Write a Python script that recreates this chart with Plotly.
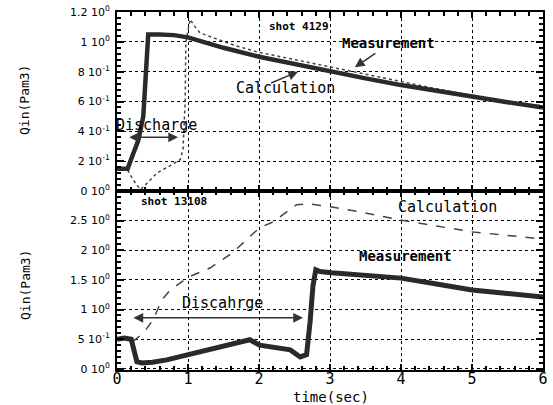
import plotly.graph_objects as go
from plotly.subplots import make_subplots

# ---- Top panel (shot 4129) ----
top_calc_t = [0, 0.15, 0.22, 0.30, 0.37, 0.40, 0.42, 0.44, 0.6, 0.8, 1.0, 1.2, 1.5, 2.0, 2.5, 3.0, 3.5, 4.0, 4.5, 5.0, 5.5, 6.0]
top_calc_y = [0.15, 0.15, 0.24, 0.34, 0.50, 0.70, 0.85, 1.05, 1.05, 1.045, 1.03, 1.0, 0.96, 0.90, 0.85, 0.80, 0.755, 0.71, 0.67, 0.63, 0.595, 0.56]

top_meas_t = [0.15, 0.22, 0.28, 0.33, 0.42, 0.56, 0.75, 0.89, 0.93, 0.96, 0.97, 1.03, 1.1, 1.17, 1.4, 1.7, 2.0, 2.5, 3.0, 3.5, 4.0, 4.5, 5.0, 5.5, 6.0]
top_meas_y = [0.14, 0.08, 0.04, 0.01, 0.05, 0.12, 0.17, 0.21, 0.28, 0.60, 1.00, 1.15, 1.10, 1.06, 1.02, 0.97, 0.93, 0.88, 0.83, 0.78, 0.73, 0.685, 0.64, 0.60, 0.57]

# ---- Bottom panel (shot 13108) ----
bot_meas_t = [0, 0.1, 0.2, 0.24, 0.28, 0.35, 0.5, 0.7, 1.0, 1.2, 1.45, 1.73, 1.87, 2.01, 2.3, 2.44, 2.58, 2.67, 2.72, 2.76, 2.8, 2.86, 3.02, 3.5, 4.0, 4.5, 5.0, 5.5, 6.0]
bot_meas_y = [0.50, 0.52, 0.50, 0.30, 0.12, 0.10, 0.11, 0.15, 0.24, 0.30, 0.37, 0.46, 0.49, 0.40, 0.35, 0.32, 0.20, 0.24, 0.80, 1.40, 1.67, 1.64, 1.62, 1.58, 1.53, 1.43, 1.33, 1.27, 1.21]

bot_calc_t = [0.22, 0.37, 0.51, 0.63, 0.75, 1.01, 1.31, 1.63, 1.87, 2.01, 2.2, 2.53, 2.72, 3.03, 3.5, 3.99, 4.5, 5.01, 5.5, 6.0]
bot_calc_y = [0.46, 0.60, 0.83, 1.16, 1.33, 1.55, 1.70, 1.96, 2.23, 2.38, 2.48, 2.77, 2.78, 2.73, 2.63, 2.51, 2.41, 2.31, 2.25, 2.19]

top_tickvals = [0, 0.2, 0.4, 0.6, 0.8, 1.0, 1.2]
top_ticktext = ["0 10<sup>0</sup>", "2 10<sup>-1</sup>", "4 10<sup>-1</sup>", "6 10<sup>-1</sup>",
                "8 10<sup>-1</sup>", "1 10<sup>0</sup>", "1.2 10<sup>0</sup>"]
bot_tickvals = [0, 0.5, 1.0, 1.5, 2.0, 2.5]
bot_ticktext = ["0 10<sup>0</sup>", "5 10<sup>-1</sup>", "1 10<sup>0</sup>", "1.5 10<sup>0</sup>",
                "2 10<sup>0</sup>", "2.5 10<sup>0</sup>"]
x_tickvals = [0, 1, 2, 3, 4, 5, 6]

MONO = "DejaVu Sans Mono"
INK = "#2a2a2a"

fig = make_subplots(rows=2, cols=1, shared_xaxes=True, vertical_spacing=0)

fig.add_trace(go.Scatter(x=top_meas_t, y=top_meas_y, mode="lines",
                         line=dict(color="#444", width=1.5, dash="dot"), showlegend=False), row=1, col=1)
fig.add_trace(go.Scatter(x=top_calc_t, y=top_calc_y, mode="lines",
                         line=dict(color=INK, width=4.5), showlegend=False), row=1, col=1)
fig.add_trace(go.Scatter(x=bot_calc_t, y=bot_calc_y, mode="lines",
                         line=dict(color="#444", width=1.5, dash="dash"), showlegend=False), row=2, col=1)
fig.add_trace(go.Scatter(x=bot_meas_t, y=bot_meas_y, mode="lines",
                         line=dict(color=INK, width=5), showlegend=False), row=2, col=1)

xcommon = dict(range=[0, 6], tickvals=x_tickvals, showgrid=True, gridcolor="black", griddash="dot",
               gridwidth=1, showline=True, linecolor="black", linewidth=2, mirror="ticks",
               ticks="inside", ticklen=6, tickcolor="black", tickwidth=1.5, zeroline=False,
               automargin=False,
               minor=dict(dtick=0.2, ticks="inside", ticklen=4, tickcolor="black", showgrid=False))
fig.update_xaxes(**xcommon)
fig.update_xaxes(showticklabels=False, row=1, col=1)
fig.update_xaxes(showticklabels=True, tickfont=dict(family=MONO, size=15, color="black"),
                 ticklabelstandoff=-6, row=2, col=1)

ycommon = dict(showgrid=True, gridcolor="black", griddash="dot", gridwidth=1, showline=True,
               linecolor="black", linewidth=2, mirror="ticks", ticks="inside", ticklen=7,
               tickcolor="black", tickwidth=1.5, zeroline=False, automargin=False,
               ticklabelstandoff=3, ticklabeloverflow="allow",
               tickfont=dict(family="DejaVu Sans", size=11, color="black"))
fig.update_yaxes(**ycommon)
fig.update_yaxes(range=[0, 1.2], tickvals=top_tickvals, ticktext=top_ticktext,
                 minor=dict(dtick=0.04, ticks="inside", ticklen=4, tickcolor="black", showgrid=False),
                 row=1, col=1)
fig.update_yaxes(range=[-0.02, 3.0], tickvals=bot_tickvals, ticktext=bot_ticktext,
                 minor=dict(dtick=0.1, ticks="inside", ticklen=4, tickcolor="black", showgrid=False),
                 row=2, col=1)

def txt(x, y, s, xref, yref, size=14, bold=False, angle=0):
    fig.add_annotation(x=x, y=y, xref=xref, yref=yref, text=("<b>%s</b>" % s) if bold else s,
                       showarrow=False, textangle=angle, xanchor="center", yanchor="middle",
                       font=dict(family=MONO, size=size, color="black"))

def arrow(x0, y0, x1, y1, xref, yref, both=False):
    fig.add_annotation(x=x1, y=y1, ax=x0, ay=y0, xref=xref, yref=yref, axref=xref, ayref=yref,
                       text="", showarrow=True, arrowhead=2, arrowsize=1.3, arrowwidth=1.5,
                       arrowcolor="#333", arrowside="end+start" if both else "end")

W, H = 553, 405
L, R, T, B = 117, 10, 12, 35
PW = W - L - R
PH = H - T - B

def px_x(page_x):
    return (page_x - L) / PW

def px_y(page_y):
    return (H - B - page_y) / PH

# axis titles (as annotations so the plot area stays fixed)
txt(px_x(25), px_y(100), "Qin(Pam3)", "paper", "paper", size=13, angle=-90)
txt(px_x(25), px_y(285), "Qin(Pam3)", "paper", "paper", size=13, angle=-90)
txt(px_x(331), px_y(396.5), "time(sec)", "paper", "paper", size=14)

# top panel annotations
txt(2.56, 1.10, "shot 4129", "x", "y", size=11, bold=True)
txt(3.83, 0.99, "Measurement", "x", "y", size=14, bold=True)
arrow(3.66, 0.93, 3.35, 0.83, "x", "y")
txt(2.37, 0.69, "Calculation", "x", "y", size=15)
arrow(2.15, 0.72, 2.55, 0.80, "x", "y")
txt(0.55, 0.44, "Discharge", "x", "y", size=15)
arrow(0.15, 0.36, 0.86, 0.36, "x", "y", both=True)

# bottom panel annotations
txt(0.80, 2.83, "shot 13108", "x2", "y2", size=11, bold=True)
txt(4.65, 2.73, "Calculation", "x2", "y2", size=15)
txt(4.06, 1.91, "Measurement", "x2", "y2", size=14, bold=True)
txt(1.48, 1.11, "Discahrge", "x2", "y2", size=15)
arrow(0.21, 0.86, 2.62, 0.86, "x2", "y2", both=True)

fig.update_layout(width=W, height=H, margin=dict(l=L, r=R, t=T, b=B),
                  paper_bgcolor="white", plot_bgcolor="white", showlegend=False)

fig.write_html("out.html", config={"displayModeBar": False},
               post_script="document.body.style.margin='0px';")
